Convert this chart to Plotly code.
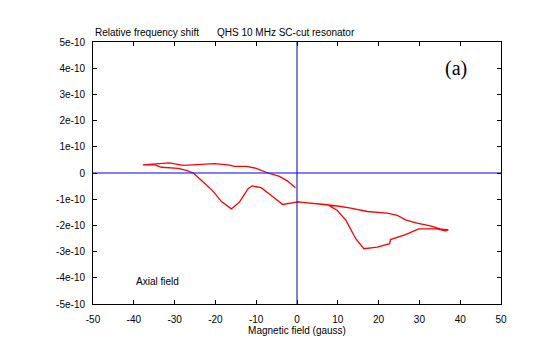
import plotly.graph_objects as go

# Magnetic field (gauss) and relative frequency shift along the measured loop
field = [0.2, 2.6, 5.0, 7.5, 9.5, 13.2, 17.2, 22.1, 24.6, 26.6, 29.4, 32.7, 35.1, 37.1,
         36.3, 34.3, 29.8, 26.6, 22.9, 22.7, 19.7, 16.4, 14.4, 12.0, 9.9, 7.5,
         5.0, 2.6, 0.2, -1.5, -3.5, -6.3, -8.8, -11.0, -12.0, -14.1, -16.1, -18.5,
         -20.6, -23.4, -25.4, -27.1, -29.1, -33.2, -34.8, -37.8,
         -34.8, -31.3, -27.9, -24.6, -20.2, -16.9, -15.3, -12.4, -10.0, -7.1, -4.3, -2.3, -0.4]
shift = [-1.10e-10, -1.14e-10, -1.16e-10, -1.21e-10, -1.25e-10, -1.34e-10, -1.47e-10, -1.53e-10,
         -1.62e-10, -1.79e-10, -1.91e-10, -2.02e-10, -2.13e-10, -2.17e-10,
         -2.21e-10, -2.13e-10, -2.13e-10, -2.35e-10, -2.54e-10, -2.70e-10, -2.83e-10, -2.89e-10,
         -2.51e-10, -1.81e-10, -1.43e-10, -1.21e-10,
         -1.16e-10, -1.14e-10, -1.10e-10, -1.14e-10, -1.20e-10, -0.86e-10, -0.56e-10, -0.49e-10,
         -0.60e-10, -1.11e-10, -1.37e-10, -1.09e-10, -0.69e-10, -0.29e-10, 0.0, 0.10e-10,
         0.18e-10, 0.22e-10, 0.31e-10, 0.31e-10,
         0.35e-10, 0.39e-10, 0.29e-10, 0.32e-10, 0.36e-10, 0.31e-10, 0.25e-10, 0.25e-10,
         0.18e-10, 0.0, -0.13e-10, -0.31e-10, -0.56e-10]

x_ticks = [-50, -40, -30, -20, -10, 0, 10, 20, 30, 40, 50]
x_tick_labels = ["-50", "-40", "-30", "-20", "-10", "0", "10", "20", "30", "40", "50"]
y_ticks = [5e-10, 4e-10, 3e-10, 2e-10, 1e-10, 0, -1e-10, -2e-10, -3e-10, -4e-10, -5e-10]
y_tick_labels = ["5e-10", "4e-10", "3e-10", "2e-10", "1e-10", "0",
                 "-1e-10", "-2e-10", "-3e-10", "-4e-10", "-5e-10"]

FONT = "Liberation Sans, Arial, sans-serif"

fig = go.Figure()
fig.add_trace(go.Scatter(x=field, y=shift, mode="lines",
                         line=dict(color="#ff0000", width=1.3), showlegend=False))

fig.add_shape(type="line", xref="x", yref="y", x0=-50, x1=50, y0=0, y1=0,
              line=dict(color="#0000ff", width=1))
fig.add_shape(type="line", xref="x", yref="y", x0=0, x1=0, y0=-5e-10, y1=5e-10,
              line=dict(color="#0000b4", width=1))

fig.update_layout(
    width=540, height=355,
    margin=dict(l=85, r=47, t=34, b=59),
    paper_bgcolor="white", plot_bgcolor="white",
    font=dict(family=FONT, size=10, color="black"),
    xaxis=dict(range=[-50, 50], tickvals=x_ticks, ticktext=x_tick_labels,
               ticks="inside", ticklen=4, tickcolor="black", showgrid=False, zeroline=False,
               showline=True, linecolor="black", linewidth=1, mirror="ticks",
               title=dict(text="Magnetic field (gauss)", standoff=2, font=dict(size=10)),
               ticklabelstandoff=6),
    yaxis=dict(range=[-5e-10, 5e-10], tickvals=y_ticks, ticktext=y_tick_labels,
               ticks="inside", ticklen=4, tickcolor="black", showgrid=False, zeroline=False,
               showline=True, linecolor="black", linewidth=1, mirror="ticks",
               ticklabelstandoff=5),
    annotations=[
        dict(text="Relative frequency shift", xref="paper", yref="paper", x=0, y=1,
             xanchor="left", yanchor="bottom", yshift=2, showarrow=False, font=dict(size=10)),
        dict(text="QHS 10 MHz SC-cut resonator", xref="paper", yref="paper", x=0.3, y=1,
             xanchor="left", yanchor="bottom", yshift=2, showarrow=False, font=dict(size=10)),
        dict(text="(a)", xref="paper", yref="paper", x=0.89, y=0.9,
             xanchor="center", yanchor="middle", showarrow=False,
             font=dict(family="Liberation Serif, Times New Roman, serif", size=20)),
        dict(text="Axial field", xref="x", yref="y", x=-40, y=-4.14e-10,
             xanchor="left", yanchor="middle", showarrow=False, font=dict(size=10)),
    ],
)

fig.write_html("out.html")
